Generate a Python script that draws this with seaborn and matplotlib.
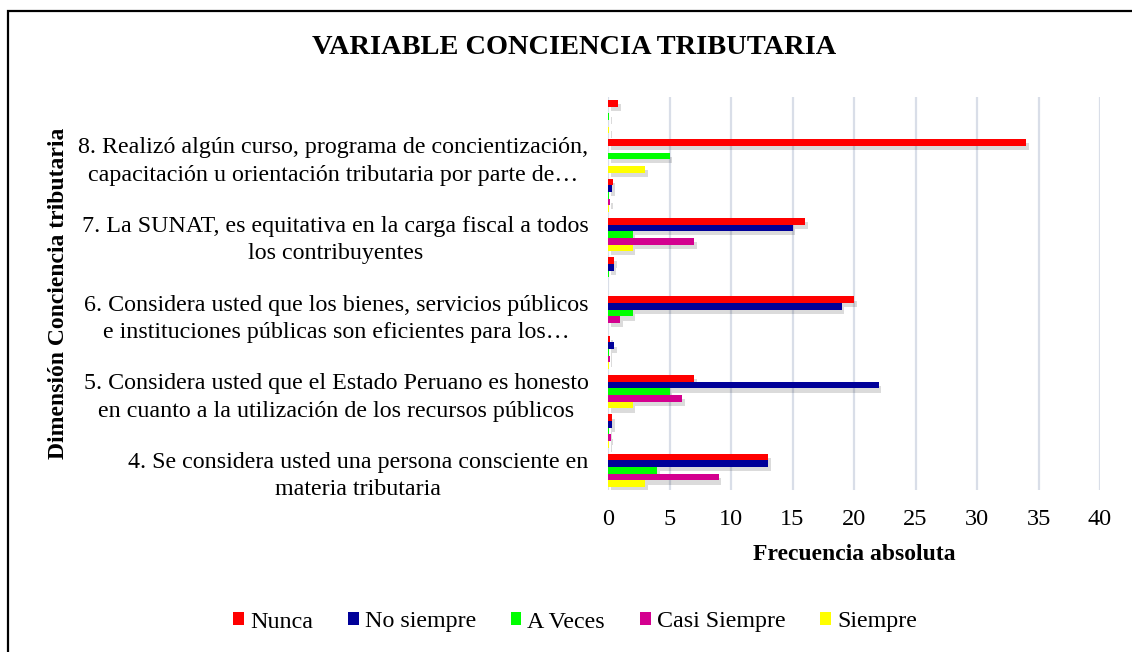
import pandas as pd
import seaborn as sns
import matplotlib.pyplot as plt
import matplotlib.patheffects as pe
from matplotlib.patches import Rectangle

# series (legend) and colours
series = ["Nunca", "No siempre", "A Veces", "Casi Siempre", "Siempre"]
colors = ["#ff0000", "#000099", "#00ff00", "#d4008f", "#ffff00"]

# rows from top to bottom, the unlabelled rows carry the proportions
rows = ["p8", "q8", "p7", "q7", "p6", "q6", "p5", "q5", "p4", "q4"]
row_labels = [
    "",
    "8. Realizó algún curso, programa de concientización,\ncapacitación u orientación tributaria por parte de…",
    "",
    "7. La SUNAT, es equitativa en la carga fiscal a todos\nlos contribuyentes",
    "",
    "6. Considera usted que los bienes, servicios públicos\ne instituciones públicas son eficientes para los…",
    "",
    "5. Considera usted que el Estado Peruano es honesto\nen cuanto a la utilización de los recursos públicos",
    "",
    "4. Se considera usted una persona consciente en\nmateria tributaria",
]

# values per row, in series order
p8 = [0.81, 0, 0.12, 0, 0.07]
q8 = [34, 0, 5, 0, 3]
p7 = [0.38, 0.36, 0.05, 0.17, 0.05]
q7 = [16, 15, 2, 7, 2]
p6 = [0.48, 0.45, 0.05, 0.02, 0]
q6 = [20, 19, 2, 1, 0]
p5 = [0.17, 0.52, 0.12, 0.14, 0.05]
q5 = [7, 22, 5, 6, 2]
p4 = [0.31, 0.31, 0.10, 0.21, 0.07]
q4 = [13, 13, 4, 9, 3]

values = [p8, q8, p7, q7, p6, q6, p5, q5, p4, q4]

records = []
for r, vals in zip(rows, values):
    for s, v in zip(series, vals):
        records.append({"fila": r, "serie": s, "valor": v})
df = pd.DataFrame(records)

sns.set_theme(style="white")
plt.rcParams["font.family"] = ["Liberation Serif", "DejaVu Serif"]
plt.rcParams["text.color"] = "black"
plt.rcParams["xtick.color"] = "black"
plt.rcParams["ytick.color"] = "black"
plt.rcParams["axes.labelcolor"] = "black"

W, H = 1132, 652
fig = plt.figure(figsize=(W / 100, H / 100), dpi=100)
ax = fig.add_axes([608 / W, 1 - 490 / H, (1100 - 608) / W, (490 - 97) / H])

sns.barplot(data=df, x="valor", y="fila", hue="serie", order=rows,
            hue_order=series, palette=colors, saturation=1, width=0.85,
            orient="h", linewidth=0, ax=ax)

ax.set_xlim(0, 40)
ax.set_xticks(range(0, 41, 5))
ax.set_ylim(9.5, -0.5)
ax.set_yticks(range(len(rows)))
ax.set_yticklabels(row_labels, fontsize=17.3, multialignment="center", linespacing=1.4)
ax.tick_params(axis="x", labelsize=17.5, pad=14, length=0)
ax.tick_params(axis="y", pad=14, length=0)
ax.grid(axis="x", color="#d9dee8", linewidth=1.6)
ax.set_axisbelow(True)
for sp in ax.spines.values():
    sp.set_visible(False)

ax.set_xlabel("Frecuencia absoluta", fontsize=17, fontweight="bold", labelpad=10)
ax.set_ylabel("")
fig.text(58 / W, 1 - 293 / H, "Dimensión Conciencia tributaria", rotation=90,
         ha="center", va="center", fontsize=17, fontweight="bold")

fig.text(574 / W, 1 - 48 / H, "VARIABLE CONCIENCIA TRIBUTARIA", ha="center",
         va="center", fontsize=20.4, fontweight="bold")

handles, labels = ax.get_legend_handles_labels()
ax.legend_.remove()
leg = fig.legend(handles, labels, loc="center", bbox_to_anchor=(575 / W, 1 - 622 / H),
                 ncol=5, frameon=False, fontsize=17.3, handlelength=0.45, handleheight=0.45,
                 handletextpad=0.25, columnspacing=1.45)

# excel-like drop shadow on bars only (not on legend keys)
for p in ax.patches:
    p.set_path_effects([pe.SimplePatchShadow(offset=(2, -3), shadow_rgbFace="black", alpha=0.14),
                        pe.Normal()])
for h in leg.legend_handles:
    h.set_path_effects([])

# outer border of the chart
fig.patches.append(Rectangle((7.5 / W, -0.1), 1.2, 1.1 - 11 / H, transform=fig.transFigure,
                             fill=False, edgecolor="black", linewidth=1.6))

fig.savefig("out.png", dpi=100)
